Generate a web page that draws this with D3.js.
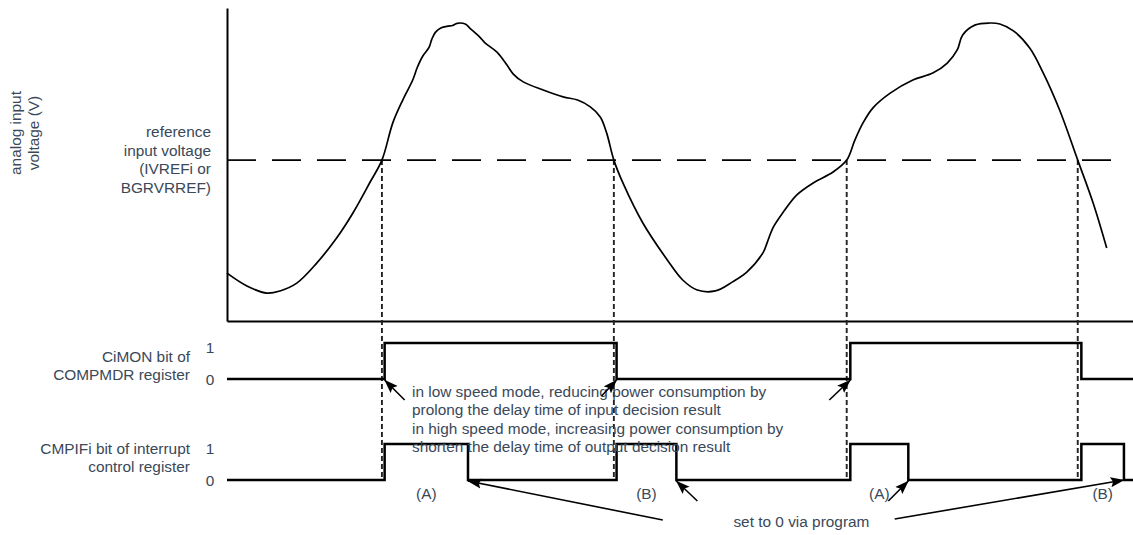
<!DOCTYPE html>
<html>
<head>
<meta charset="utf-8">
<script src="https://cdn.jsdelivr.net/npm/d3@7"></script>
<style>
  html, body { margin: 0; padding: 0; background: #ffffff; }
  svg text { font-family: "Liberation Sans", Arial, sans-serif; fill: #3a4858; }
</style>
</head>
<body>
<svg id="chart" width="1133" height="535"></svg>
<script>
// ---------------- data ----------------
// analog input waveform: time (0..100) and voltage (0..100, arbitrary units)
const curveTime = [0, 2.2, 4.4, 5.85, 7.7, 9.9, 12.1, 13.9, 15.8, 17.1, 18.3, 19.4, 20.5, 21.0, 21.6, 22.3, 22.6, 23.0, 23.6, 24.4, 24.9, 25.4, 26.3, 26.8, 27.9, 28.5, 29.8, 30.9, 31.6, 32.7, 34.9, 37.1, 38.7, 40.1, 41.2, 41.9, 42.7, 43.7, 45.9, 48.6, 50.3, 51.9, 53.9, 55.8, 57.4, 59.2, 59.6, 60.3, 61.4, 62.9, 64.7, 66.9, 68.4, 69.3, 70.2, 71.3, 73.2, 75.7, 77.9, 79.5, 80.6, 81.2, 82.6, 84.2, 85.3, 86.8, 88.6, 90.1, 91.9, 93.9, 95.6, 97.1];
const curveVolt = [15.3, 11.2, 8.9, 9.6, 12.1, 18.5, 26.5, 34.5, 44.4, 51.4, 63.3, 70.6, 77.0, 81.0, 84.6, 87.4, 90.0, 92.2, 93.6, 94.2, 94.4, 95.1, 94.9, 93.6, 90.7, 88.8, 85.9, 81.8, 78.9, 76.4, 73.8, 71.6, 70.6, 68.4, 65.2, 60.1, 51.4, 44.1, 31.3, 19.5, 13.1, 9.9, 9.6, 12.5, 15.7, 22.0, 24.9, 30.0, 34.8, 40.3, 44.1, 47.6, 51.4, 57.8, 63.3, 68.1, 72.8, 77.0, 79.2, 82.4, 86.6, 91.4, 94.6, 95.2, 94.9, 92.7, 87.2, 79.2, 67.4, 51.4, 37.7, 23.3];
const refVoltage = 51.4;
const refEndTime = 99.3;
const crossTimes = [17.1, 42.7, 68.4, 93.9];

// CiMON bit of COMPMDR register (step after)
const cimonTimes = [0, 17.4, 43.0, 68.8, 94.3, 100];
const cimonBits  = [0, 1, 0, 1, 0, 0];
// CMPIFi bit of interrupt control register (step after)
const cmpifTimes = [0, 17.4, 26.6, 43.0, 49.6, 68.8, 75.2, 94.3, 99.0, 100];
const cmpifBits  = [0, 1, 0, 1, 0, 1, 0, 1, 0, 0];

const bitTicks = [1, 0];
const pulseLabels = ["(A)", "(B)", "(A)", "(B)"];
const yAxisLabel = ["analog input", "voltage (V)"];
const refLabel = ["reference", "input voltage", "(IVREFi or", "BGRVRREF)"];
const cimonLabel = ["CiMON bit of", "COMPMDR register"];
const cmpifLabel = ["CMPIFi bit of interrupt", "control register"];
const noteLines = [
  "in low speed mode, reducing power consumption by",
  "prolong the delay time of input decision result",
  "in high speed mode, increasing power consumption by",
  "shorten the delay time of output decision result"
];
const clearText = "set to 0 via program";
const clearTextTime = 63.4;
const clearTailTimes = [48.1, 73.7];

// ---------------- scales ----------------
const svg = d3.select("#chart");
const x = d3.scaleLinear().domain([0, 100]).range([227, 1133]);
const yV = d3.scaleLinear().domain([0, 100]).range([321, 8]);
const yC = d3.scaleLinear().domain([0, 1]).range([379, 343]);
const yI = d3.scaleLinear().domain([0, 1]).range([480, 444]);

// arrow marker
svg.append("defs").append("marker")
  .attr("id", "ah").attr("viewBox", "0 0 14 11")
  .attr("refX", 13.5).attr("refY", 5.5)
  .attr("markerWidth", 14).attr("markerHeight", 11)
  .attr("markerUnits", "userSpaceOnUse").attr("orient", "auto")
  .append("path").attr("d", "M0,0.5 L14,5.5 L0,10.5 L2.5,5.5 Z").attr("fill", "#000");

// ---------------- axes ----------------
const gy = svg.append("g").attr("transform", `translate(${x(0)},0)`)
  .call(d3.axisLeft(yV).tickValues([]).tickSizeOuter(0));
const gx = svg.append("g").attr("transform", `translate(0,${yV(0)})`)
  .call(d3.axisBottom(x).tickValues([]).tickSizeOuter(0));
[gy, gx].forEach(g => g.select(".domain").attr("stroke", "#000").attr("stroke-width", 2));

// reference dashed line
svg.append("line")
  .attr("x1", x(0)).attr("x2", x(refEndTime))
  .attr("y1", yV(refVoltage)).attr("y2", yV(refVoltage))
  .attr("stroke", "#000").attr("stroke-width", 1.7)
  .attr("stroke-dasharray", "29,16");

// vertical dashed lines at crossings
svg.append("g").selectAll("line").data(crossTimes).join("line")
  .attr("x1", d => x(d)).attr("x2", d => x(d))
  .attr("y1", yV(refVoltage)).attr("y2", yI(0))
  .attr("stroke", "#222").attr("stroke-width", 1.9)
  .attr("stroke-dasharray", "5,3");

// analog curve
const curvePts = curveTime.map((t, i) => [t, curveVolt[i]]);
svg.append("path").datum(curvePts)
  .attr("fill", "none").attr("stroke", "#000").attr("stroke-width", 1.7)
  .attr("d", d3.line().x(d => x(d[0])).y(d => yV(d[1])).curve(d3.curveCatmullRom.alpha(0.5)));

// digital signals
const step = (ys) => d3.line().x(d => x(d[0])).y(d => ys(d[1])).curve(d3.curveStepAfter);
svg.append("path").datum(cimonTimes.map((t, i) => [t, cimonBits[i]]))
  .attr("fill", "none").attr("stroke", "#000").attr("stroke-width", 2.5)
  .attr("d", step(yC));
svg.append("path").datum(cmpifTimes.map((t, i) => [t, cmpifBits[i]]))
  .attr("fill", "none").attr("stroke", "#000").attr("stroke-width", 2.5)
  .attr("d", step(yI));

// ---------------- text ----------------
const fs = 15.4;
// rotated y label
const gl = svg.append("g").attr("transform", "translate(24,133) rotate(-90)");
gl.selectAll("text").data(yAxisLabel).join("text")
  .attr("x", 0).attr("y", (d, i) => (i - 0.5) * 18)
  .attr("text-anchor", "middle").attr("dominant-baseline", "central")
  .attr("font-size", fs).text(d => d);

// reference label
svg.append("g").selectAll("text").data(refLabel).join("text")
  .attr("x", 211).attr("y", (d, i) => yV(refVoltage) + 5 + (i - 1.5) * 18.7)
  .attr("text-anchor", "end").attr("font-size", fs).text(d => d);

// signal labels
svg.append("g").selectAll("text").data(cimonLabel).join("text")
  .attr("x", 190).attr("y", (d, i) => yC(0) - 17 + i * 18)
  .attr("text-anchor", "end").attr("font-size", fs).text(d => d);
svg.append("g").selectAll("text").data(cmpifLabel).join("text")
  .attr("x", 190).attr("y", (d, i) => yI(0) - 26 + i * 18)
  .attr("text-anchor", "end").attr("font-size", fs).text(d => d);

// bit tick labels
[yC, yI].forEach(ys => {
  svg.append("g").selectAll("text").data(bitTicks).join("text")
    .attr("x", 210).attr("y", d => ys(d) + (d === 1 ? 4.5 : 0))
    .attr("text-anchor", "middle").attr("dominant-baseline", "central")
    .attr("font-size", fs).text(d => d);
});

// note text
svg.append("g").selectAll("text").data(noteLines).join("text")
  .attr("x", 412).attr("y", (d, i) => 397 + i * 18.3)
  .attr("font-size", fs).text(d => d);

// pulse labels (A)/(B) at pulse midpoints
const pulses = [];
for (let i = 0; i < cmpifTimes.length - 1; i++) {
  if (cmpifBits[i] === 1) pulses.push((cmpifTimes[i] + cmpifTimes[i + 1]) / 2);
}
svg.append("g").selectAll("text").data(pulses).join("text")
  .attr("x", d => x(d)).attr("y", yI(0) + 19)
  .attr("text-anchor", "middle").attr("font-size", fs)
  .text((d, i) => pulseLabels[i]);

// clear text
svg.append("text").attr("x", x(clearTextTime)).attr("y", yI(0) + 47)
  .attr("text-anchor", "middle").attr("font-size", fs).text(clearText);

// ---------------- arrows ----------------
const arrows = [
  { hx: x(cimonTimes[1]), hy: yC(0) + 1, tx: x(cimonTimes[1]) + 20, ty: yC(0) + 21 },
  { hx: x(cimonTimes[2]), hy: yC(0) + 1, tx: x(cimonTimes[2]) - 15, ty: yC(0) + 17 },
  { hx: x(cimonTimes[3]), hy: yC(0) + 1, tx: x(cimonTimes[3]) - 21, ty: yC(0) + 21 },
  { hx: x(cmpifTimes[2]), hy: yI(0) + 1, tx: x(clearTailTimes[0]), ty: yI(0) + 40 },
  { hx: x(cmpifTimes[4]), hy: yI(0) + 1, tx: x(cmpifTimes[4]) + 21, ty: yI(0) + 21 },
  { hx: x(cmpifTimes[6]), hy: yI(0) + 1, tx: x(cmpifTimes[6]) - 20, ty: yI(0) + 21 },
  { hx: x(cmpifTimes[8]), hy: yI(0), tx: x(clearTailTimes[1]), ty: yI(0) + 39 }
];
svg.append("g").selectAll("line").data(arrows).join("line")
  .attr("x1", d => d.tx).attr("y1", d => d.ty)
  .attr("x2", d => d.hx).attr("y2", d => d.hy)
  .attr("stroke", "#000").attr("stroke-width", 1.6)
  .attr("marker-end", "url(#ah)");
</script>
</body>
</html>
